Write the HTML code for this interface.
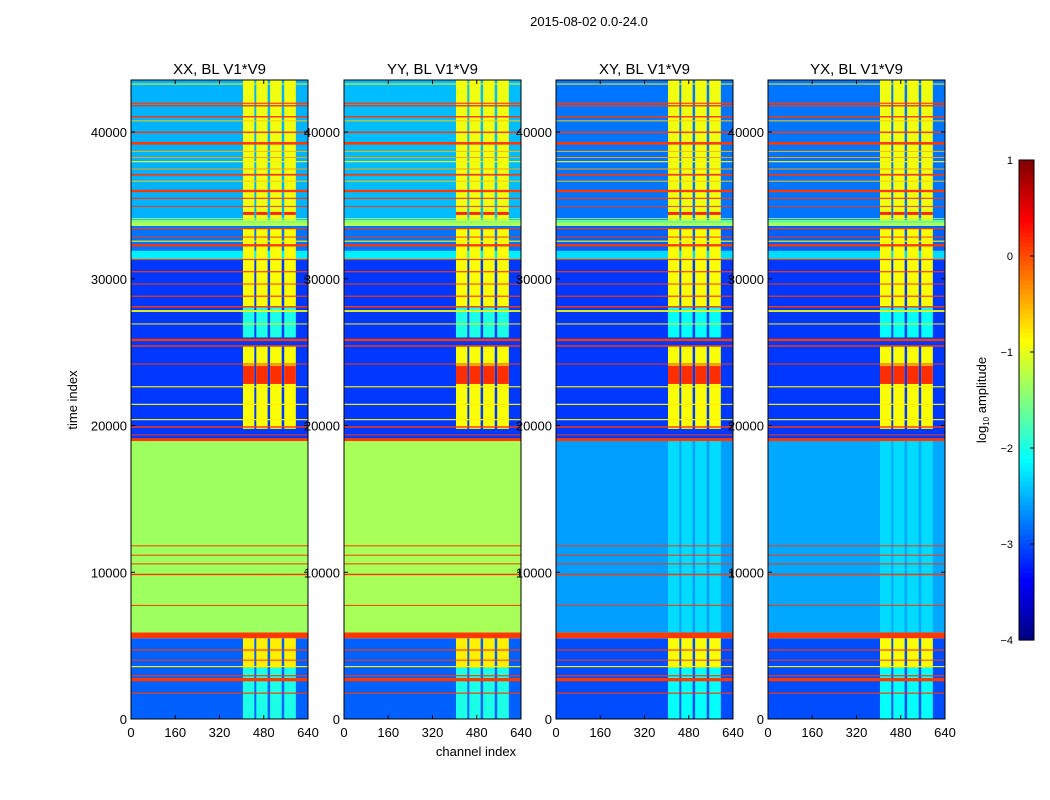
<!DOCTYPE html>
<html><head><meta charset="utf-8"><style>
html,body{margin:0;padding:0;background:#fff;}
svg{display:block;font-family:"Liberation Sans",sans-serif;}
</style></head><body>
<svg id="fig" width="1050" height="800" viewBox="0 0 1050 800">
<text x="589" y="26" font-size="13" text-anchor="middle">2015-08-02 0.0-24.0</text>
<text transform="translate(77,400) rotate(-90)" font-size="13" text-anchor="middle">time index</text>
<text x="476" y="756" font-size="13" text-anchor="middle">channel index</text>
<g id="panels"></g>
<g id="cbar"></g>
<text transform="translate(986,400) rotate(-90)" font-size="13" text-anchor="middle">log<tspan font-size="8" dy="3">10</tspan><tspan dy="-3"> amplitude</tspan></text>
</svg>
<script>
// ---- data ----
const panelTitles = ["XX, BL V1*V9","YY, BL V1*V9","XY, BL V1*V9","YX, BL V1*V9"];
const xTicks = [0,160,320,480,640];
const yTicks = [0,10000,20000,30000,40000];
const cbTicks = [1,0,-1,-2,-3,-4];
// background segments: [t0, t1] and value per panel (log10 amplitude)
const segStart = [0,5500,5900,19000,31300,31900,33600,34000];
const segEnd   = [5500,5900,19000,31300,31900,33600,34000,43544];
const segXX = [-2.9,0.1,-1.35,-3.1,-2.2,-2.8,-1.5,-2.5];
const segYY = [-2.9,0.1,-1.3,-3.1,-2.2,-2.8,-1.5,-2.45];
const segXY = [-3.0,0.1,-2.6,-3.1,-2.3,-2.9,-1.7,-2.8];
const segYX = [-3.0,0.1,-2.55,-3.1,-2.3,-2.9,-1.7,-2.8];
// vertical RFI channel bands
const bandCh0 = [405,453,503,554];
const bandCh1 = [446,494,545,596];
// time ranges where bands are active, value per panel
const actStart = [0,3500,5900,19770,26000,28100,33950];
const actEnd   = [3500,5500,19000,25450,28100,33400,43544];
const actXX = [-2.0,-0.8,-1.35,-0.9,-2.0,-0.9,-0.95];
const actYY = [-2.0,-0.8,-1.3,-0.9,-2.0,-0.9,-0.95];
const actXY = [-2.1,-0.9,-2.3,-0.9,-2.1,-0.9,-0.95];
const actYX = [-2.1,-0.9,-2.3,-0.9,-2.1,-0.9,-0.95];
// strong bursts within bands
const burstStart = [22830,34350];
const burstEnd = [24080,34550];
const burstVal = [0.15,0.2];
// horizontal RFI stripes: time, thickness, value
const stripeT = [1760,2680,2950,3570,4010,4700,7740,9850,10570,11160,11800,19040,19360,19900,20400,21440,22640,24190,25420,25830,26920,27800,28090,28810,29640,30480,31310,32280,32560,32840,33420,33720,34090,34930,35480,35980,36650,37090,37480,37980,38260,38680,39230,39980,40760,41040,41790,41960,43270];
const stripeW = [80,220,80,80,60,80,60,100,60,60,60,200,60,100,80,80,80,60,100,160,60,120,100,80,60,80,80,160,80,60,80,180,60,60,80,160,60,120,60,80,60,60,180,100,60,100,100,80,60];
const stripeV = [0.1,0.1,0.1,-0.8,0.1,0.1,0.1,0.1,0.1,0.1,0.1,0.1,0.1,0.1,-0.8,-0.8,-0.8,0.1,0.1,0.1,-0.8,-0.9,0.1,0.1,0.1,0.1,0.1,0.1,-0.8,0.1,0.1,-1.2,-1.2,0.1,0.1,0.1,-0.6,0.1,-0.4,-0.8,-0.4,-0.5,0.1,0.1,-0.6,0.1,0.1,0.1,-0.8];

// ---- helpers ----
const NS="http://www.w3.org/2000/svg";
function el(tag,attrs,parent){const e=document.createElementNS(NS,tag);for(const k in attrs)e.setAttribute(k,attrs[k]);if(parent)parent.appendChild(e);return e;}
function jet(v){let n=(v+4)/5;n=Math.max(0,Math.min(1,n));
 const c=x=>Math.round(255*Math.max(0,Math.min(1,x)));
 return `rgb(${c(1.5-Math.abs(4*n-3))},${c(1.5-Math.abs(4*n-2))},${c(1.5-Math.abs(4*n-1))})`;}
const panelX=[131,344,556,768], PW=177, PT=80, PB=719, TMAX=43544, CMAX=640;
const ys=t=>PB-(t/TMAX)*(PB-PT);
const segVals=[segXX,segYY,segXY,segYX];
const actVals=[actXX,actYY,actXY,actYX];
const root=document.getElementById('panels');

for(let p=0;p<4;p++){
 const x0=panelX[p]; const xs=c=>x0+c/CMAX*PW;
 const g=el('g',{},root);
 
 
 for(let i=0;i<segStart.length;i++){
  const r=el('rect',{x:x0,y:ys(segEnd[i]),width:PW,height:ys(segStart[i])-ys(segEnd[i]),fill:jet(segVals[p][i])},g);
  
  
 }
 for(let i=0;i<actStart.length;i++){
  for(let b=0;b<bandCh0.length;b++){
   const r=el('rect',{x:xs(bandCh0[b]),y:ys(actEnd[i]),width:xs(bandCh1[b])-xs(bandCh0[b]),height:ys(actStart[i])-ys(actEnd[i]),fill:jet(actVals[p][i])},g);
   
   
  }
 }
 for(let i=0;i<burstStart.length;i++){
  for(let b=0;b<bandCh0.length;b++){
   const r=el('rect',{x:xs(bandCh0[b]),y:ys(burstEnd[i]),width:xs(bandCh1[b])-xs(bandCh0[b]),height:ys(burstStart[i])-ys(burstEnd[i]),fill:jet(burstVal[i])},g);
   
   
  }
 }
 for(let i=0;i<stripeT.length;i++){
  const h=Math.max(1,(stripeW[i]/TMAX)*(PB-PT));
  const r=el('rect',{x:x0,y:ys(stripeT[i])-h/2,width:PW,height:h,fill:jet(stripeV[i])},g);
  
  
 }
 const fr=el('rect',{x:x0,y:PT,width:PW,height:PB-PT,fill:'none',stroke:'#000','stroke-width':1},g);
 
 
 const tt=el('text',{x:x0+PW/2,y:74,'font-size':15,'text-anchor':'middle'},g);
 tt.textContent=panelTitles[p];
 
 
 xTicks.forEach(v=>{
  const x=xs(v);
  el('line',{x1:x,x2:x,y1:PB,y2:PB-4,stroke:'#000'},g);
  el('line',{x1:x,x2:x,y1:PT,y2:PT+4,stroke:'#000'},g);
  const t=el('text',{x:x,y:737,'font-size':13,'text-anchor':'middle'},g);
  t.textContent=v;
  
  
 });
 yTicks.forEach(v=>{
  const y=ys(v);
  el('line',{x1:x0,x2:x0+4,y1:y,y2:y,stroke:'#000'},g);
  el('line',{x1:x0+PW,x2:x0+PW-4,y1:y,y2:y,stroke:'#000'},g);
  const t=el('text',{x:x0-4,y:y+5,'font-size':13,'text-anchor':'end'},g);
  t.textContent=v;
  
  
 });
}
// colorbar
const cb=document.getElementById('cbar');
const CX=1019,CW=15,CT=160,CB=640;
const cy=v=>CB-(v+4)/5*(CB-CT);
for(let i=0;i<100;i++){
 const v0=-4+i*0.05;
 const r=el('rect',{x:CX,y:cy(v0+0.05),width:CW,height:(CB-CT)/100+0.6,fill:jet(v0+0.025)},cb);
 
 
}
el('rect',{x:CX,y:CT,width:CW,height:CB-CT,fill:'none',stroke:'#000'},cb);
cbTicks.forEach(v=>{
 const y=cy(v);
 el('line',{x1:CX+CW-4,x2:CX+CW,y1:y,y2:y,stroke:'#000'},cb);
 const t=el('text',{x:1013,y:y+4,'font-size':11,'text-anchor':'end'},cb);
 t.textContent=v<0?'\u2212'+(-v):v;
 
 
});
</script>
</body></html>
